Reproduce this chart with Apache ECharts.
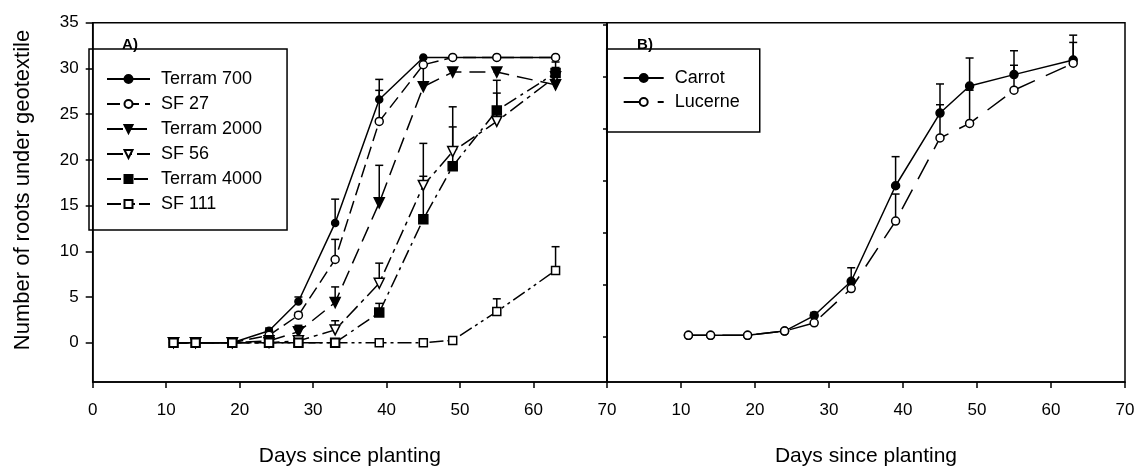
<!DOCTYPE html>
<html style="height: 100%">
  <head>
    <meta charset="utf-8" />
  </head>
  <body style="height: 100%; margin: 0; background: #fff">
    <div id="container" style="width: 1137px; height: 466px"></div>

    <script
      type="text/javascript"
      src="https://cdn.jsdelivr.net/npm/echarts@6/dist/echarts.min.js"
    ></script>

    <script type="text/javascript">
      var dom = document.getElementById("container");
      var myChart = echarts.init(dom);

      var FONT = "Liberation Sans";

      // sampling days (both panels)
      var days = [11, 14, 19, 24, 28, 33, 39, 45, 49, 55, 63];

      // panel A: geotextiles
      var terram700 = [0, 0, 0, 1.3, 4.5, 13.1, 26.6, 31.2, 31.2, 31.2, 31.2];
      var terram700Err = [0, 0, 0, 0.3, 0.5, 2.6, 2.2, 0, 0, 0, 0];
      var sf27 = [0, 0, 0, 0.8, 3.0, 9.1, 24.2, 30.4, 31.2, 31.2, 31.2];
      var sf27Err = [0, 0, 0, 0, 0.3, 2.2, 3.4, 0, 0, 0, 0];
      var terram2000 = [0, 0, 0, 0.2, 1.2, 4.4, 15.3, 28.0, 29.6, 29.6, 28.2];
      var terram2000Err = [0, 0, 0, 0, 0.7, 1.7, 4.1, 2.5, 0, 0, 1.5];
      var sf56 = [0, 0, 0, 0, 0.2, 1.4, 6.5, 17.2, 20.9, 24.2, 29.1];
      var sf56Err = [0, 0, 0, 0, 0, 1.0, 2.2, 1.0, 2.7, 3.1, 1.0];
      var terram4000 = [0, 0, 0, 0, 0, 0, 3.3, 13.5, 19.3, 25.4, 29.5];
      var terram4000Err = [0, 0, 0, 0, 0, 0, 1.0, 8.3, 6.5, 3.3, 1.2];
      var sf111 = [0, 0, 0, 0, 0, 0, 0, 0, 0.25, 3.4, 7.9];
      var sf111Err = [0, 0, 0, 0, 0, 0, 0, 0, 0, 1.4, 2.6];

      // panel B: crops
      var carrot = [0.1, 0.1, 0.1, 0.5, 2.0, 5.3, 14.5, 21.5, 24.1, 25.2, 26.6];
      var carrotErr = [0, 0, 0, 0, 0.3, 1.3, 2.8, 2.8, 2.7, 2.3, 2.4];
      var lucerne = [0.1, 0.1, 0.1, 0.5, 1.3, 4.6, 11.1, 19.1, 20.5, 23.7, 26.3];
      var lucerneErr = [0, 0, 0, 0, 0, 0, 2.6, 3.2, 3.2, 2.4, 2.0];

      var yTicksA = [0, 5, 10, 15, 20, 25, 30, 35];
      var yTicksB = [0, 5, 10, 15, 20, 25, 30];

      function pairs(vals) {
        return days.map(function (d, i) {
          return [d, vals[i]];
        });
      }

      function errData(vals, errs) {
        var out = [];
        days.forEach(function (d, i) {
          if (errs[i] > 0) out.push([d, vals[i], errs[i]]);
        });
        return out;
      }

      function renderErr(params, api) {
        var x = api.value(0);
        var v = api.value(1);
        var e = api.value(2);
        var p0 = api.coord([x, v]);
        var p1 = api.coord([x, v + e]);
        var st = { stroke: "#000", lineWidth: 1.5 };
        return {
          type: "group",
          children: [
            { type: "line", shape: { x1: p0[0], y1: p0[1], x2: p1[0], y2: p1[1] }, style: st },
            { type: "line", shape: { x1: p1[0] - 4, y1: p1[1], x2: p1[0] + 4, y2: p1[1] }, style: st },
          ],
        };
      }

      function lineSeries(name, vals, grid, symbol, size, filled, dash, rot) {
        return {
          name: name,
          type: "line",
          xAxisIndex: grid,
          yAxisIndex: grid,
          data: pairs(vals),
          symbol: symbol,
          symbolSize: size,
          symbolRotate: rot || 0,
          showSymbol: true,
          z: 3,
          lineStyle: { color: "#000", width: 1.5, type: dash },
          itemStyle: {
            color: filled ? "#000" : "#fff",
            borderColor: "#000",
            borderWidth: 1.5,
          },
          emphasis: { disabled: true },
        };
      }

      function errSeries(vals, errs, grid) {
        return {
          type: "custom",
          xAxisIndex: grid,
          yAxisIndex: grid,
          renderItem: renderErr,
          data: errData(vals, errs),
          encode: { x: 0, y: 1 },
          z: 1,
          silent: true,
        };
      }

      var labelStyle = { color: "#000", fontSize: 17, fontFamily: FONT };

      function xAxis(grid) {
        return {
          type: "value",
          gridIndex: grid,
          min: 0,
          max: 70,
          interval: 10,
          axisLine: { onZero: false, lineStyle: { color: "#000", width: 1.5 } },
          axisTick: { length: 6, lineStyle: { color: "#000", width: 1.5 } },
          axisLabel: Object.assign({}, labelStyle, {
            margin: 20,
            formatter: function (v) {
              return grid === 1 && v === 0 ? "" : String(v);
            },
          }),
          splitLine: { show: false },
          name: "Days since planting",
          nameLocation: "middle",
          nameGap: 64,
          nameTextStyle: { color: "#000", fontSize: 21, fontFamily: FONT },
        };
      }

      var option = {
        animation: false,
        backgroundColor: "#fff",
        grid: [
          { left: 92.7, top: 22.7, width: 514.3, height: 359.3, outerBoundsMode: "none", containLabel: false, show: true, borderColor: "#000", borderWidth: 1.5 },
          { left: 607, top: 22.7, width: 518, height: 359.3, outerBoundsMode: "none", containLabel: false, show: true, borderColor: "#000", borderWidth: 1.5 },
        ],
        xAxis: [xAxis(0), xAxis(1)],
        yAxis: [
          {
            type: "value",
            gridIndex: 0,
            min: -4.3,
            max: 35,
            axisLine: { onZero: false, lineStyle: { color: "#000", width: 1.5 } },
            axisTick: { length: 7, customValues: yTicksA, lineStyle: { color: "#000", width: 1.5 } },
            axisLabel: Object.assign({}, labelStyle, { margin: 14, customValues: yTicksA }),
            splitLine: { show: false },
          },
          {
            type: "value",
            gridIndex: 1,
            min: -4.4,
            max: 30.2,
            axisLine: { onZero: false, lineStyle: { color: "#000", width: 1.5 } },
            axisTick: { length: 4, customValues: yTicksB, lineStyle: { color: "#000", width: 1.5 } },
            axisLabel: { show: false },
            splitLine: { show: false },
          },
        ],
        legend: [
          {
            data: ["Terram 700", "SF 27", "Terram 2000", "SF 56", "Terram 4000", "SF 111"],
            orient: "vertical",
            left: 89,
            top: 49,
            padding: [20, 25, 16, 17],
            itemGap: 5,
            itemWidth: 43,
            itemHeight: 10,
            borderColor: "#000",
            borderWidth: 1.5,
            textStyle: { color: "#000", fontSize: 18, fontFamily: FONT, lineHeight: 20, padding: [0, 0, 0, 6] },
          },
          {
            data: ["Carrot", "Lucerne"],
            orient: "vertical",
            left: 606.7,
            top: 49,
            padding: [19, 20, 20, 16],
            itemGap: 4,
            itemWidth: 40,
            itemHeight: 10,
            borderColor: "#000",
            borderWidth: 1.5,
            textStyle: { color: "#000", fontSize: 18, fontFamily: FONT, lineHeight: 20, padding: [0, 0, 0, 6] },
          },
        ],
        graphic: [
          { type: "text", x: 130, y: 45, style: { text: "A)", fontSize: 15, fontWeight: "bold", fontFamily: FONT, fill: "#000", align: "center", verticalAlign: "middle" } },
          { type: "text", x: 645, y: 45, style: { text: "B)", fontSize: 15, fontWeight: "bold", fontFamily: FONT, fill: "#000", align: "center", verticalAlign: "middle" } },
          {
            type: "text",
            x: 23,
            y: 190,
            rotation: Math.PI / 2,
            style: { text: "Number of roots under geotextile", fontSize: 22, fontFamily: FONT, fill: "#000", align: "center", verticalAlign: "middle" },
          },
        ],
        series: [
          errSeries(terram700, terram700Err, 0),
          errSeries(sf27, sf27Err, 0),
          errSeries(terram2000, terram2000Err, 0),
          errSeries(sf56, sf56Err, 0),
          errSeries(terram4000, terram4000Err, 0),
          errSeries(sf111, sf111Err, 0),
          lineSeries("Terram 700", terram700, 0, "circle", 7, true, "solid"),
          lineSeries("SF 27", sf27, 0, "circle", 8, false, [13, 6]),
          lineSeries("Terram 2000", terram2000, 0, "triangle", 10, true, [16, 8], 180),
          lineSeries("SF 56", sf56, 0, "triangle", 10, false, [16, 5, 4, 5], 180),
          lineSeries("Terram 4000", terram4000, 0, "rect", 9, true, [14, 5, 3, 5]),
          lineSeries("SF 111", sf111, 0, "rect", 8, false, [14, 4, 3, 4, 3, 4]),
          errSeries(carrot, carrotErr, 1),
          errSeries(lucerne, lucerneErr, 1),
          lineSeries("Carrot", carrot, 1, "circle", 8, true, "solid"),
          lineSeries("Lucerne", lucerne, 1, "circle", 8, false, [22, 12]),
        ],
      };

      if (option && typeof option === "object") {
        myChart.setOption(option);
      }
    </script>
  </body>
</html>
